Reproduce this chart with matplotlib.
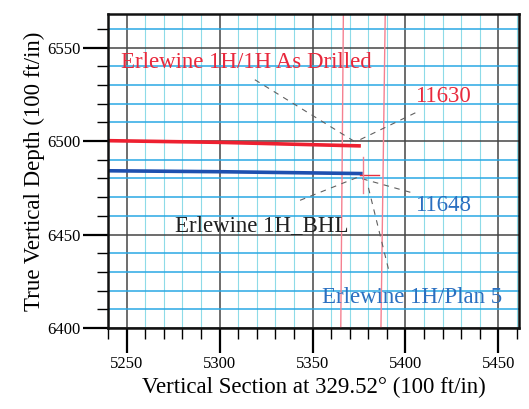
import matplotlib
matplotlib.use("Agg")
import matplotlib.pyplot as plt
from matplotlib.ticker import MultipleLocator

plt.rcParams['font.family'] = ['Liberation Serif', 'DejaVu Serif']

# well paths (vertical section, TVD)
drilled_vs = [5240, 5300, 5376]
drilled_tvd = [6500.2, 6499.3, 6497.4]
plan_vs = [5240, 5300, 5377]
plan_tvd = [6484.1, 6483.6, 6482.6]

# lease / setback lines (slightly skewed in the scan)
line1_vs = [5365.2, 5366.6]
line2_vs = [5386.8, 5389.1]
line_tvd = [6400, 6568]

# BHL target cross
bhl_h_vs = [5375.7, 5386.0]
bhl_h_tvd = [6481.9, 6481.9]
bhl_v_vs = [5377.1, 5377.1]
bhl_v_tvd = [6491.5, 6472.0]

# leader lines: (from label) -> (to point)
leaders = [
    ((5319.0, 6532.8), (5373.0, 6499.5)),
    ((5405.3, 6515.1), (5373.0, 6499.5)),
    ((5343.3, 6468.3), (5375.7, 6481.2)),
    ((5402.6, 6472.6), (5375.7, 6480.1)),
    ((5390.8, 6431.7), (5380.0, 6475.3)),
]

labels = [
    ("Erlewine 1H/1H As Drilled", 5247.3, 6542.0, '#e8283c'),
    ("11630", 5405.3, 6523.7, '#e8283c'),
    ("11648", 5405.3, 6465.6, '#2a6fc0'),
    ("Erlewine 1H_BHL", 5275.9, 6454.8, '#202020'),
    ("Erlewine 1H/Plan 5", 5355.2, 6416.1, '#2a6fc0'),
]

fig = plt.figure(figsize=(5.29, 4.09), dpi=100)
ax = fig.add_axes([0.204, 0.198, 0.777, 0.768])

ax.set_xlim(5240, 5461)
ax.set_ylim(6400, 6568)

ax.xaxis.set_major_locator(MultipleLocator(50))
ax.xaxis.set_minor_locator(MultipleLocator(10))
ax.yaxis.set_major_locator(MultipleLocator(50))
ax.yaxis.set_minor_locator(MultipleLocator(10))

ax.grid(which='minor', axis='x', color='#8edbe8', lw=0.8)
ax.grid(which='minor', axis='y', color='#2aa8e4', lw=1.1)
ax.grid(which='major', color='#454545', lw=1.1)

ax.tick_params(which='major', direction='out', length=18, width=1.6, labelsize=12, pad=2)
ax.tick_params(which='minor', direction='out', length=8, width=1.0)
for s in ax.spines.values():
    s.set_linewidth(1.8)
    s.set_color('#111111')

for x in (line1_vs, line2_vs):
    ax.plot(x, line_tvd, color='#f58090', lw=1.0)

for (x0, y0), (x1, y1) in leaders:
    ax.plot([x0, x1], [y0, y1], color='#606060', lw=0.8, ls=(0, (5, 5)))

ax.plot(drilled_vs, drilled_tvd, color='#ee2030', lw=2.6, solid_capstyle='butt')
ax.plot(plan_vs, plan_tvd, color='#1e50b0', lw=2.6, solid_capstyle='butt')
ax.plot(bhl_h_vs, bhl_h_tvd, color='#e83040', lw=1.0)
ax.plot(bhl_v_vs, bhl_v_tvd, color='#f08090', lw=1.0)

for txt, x, y, c in labels:
    ax.text(x, y, txt, color=c, fontsize=16.5, va='center', ha='left')

ax.set_xlabel("Vertical Section at 329.52° (100 ft/in)", fontsize=16.5, labelpad=4)
ax.set_ylabel("True Vertical Depth (100 ft/in)", fontsize=16.5, labelpad=1)

fig.savefig("out.png", dpi=100)
